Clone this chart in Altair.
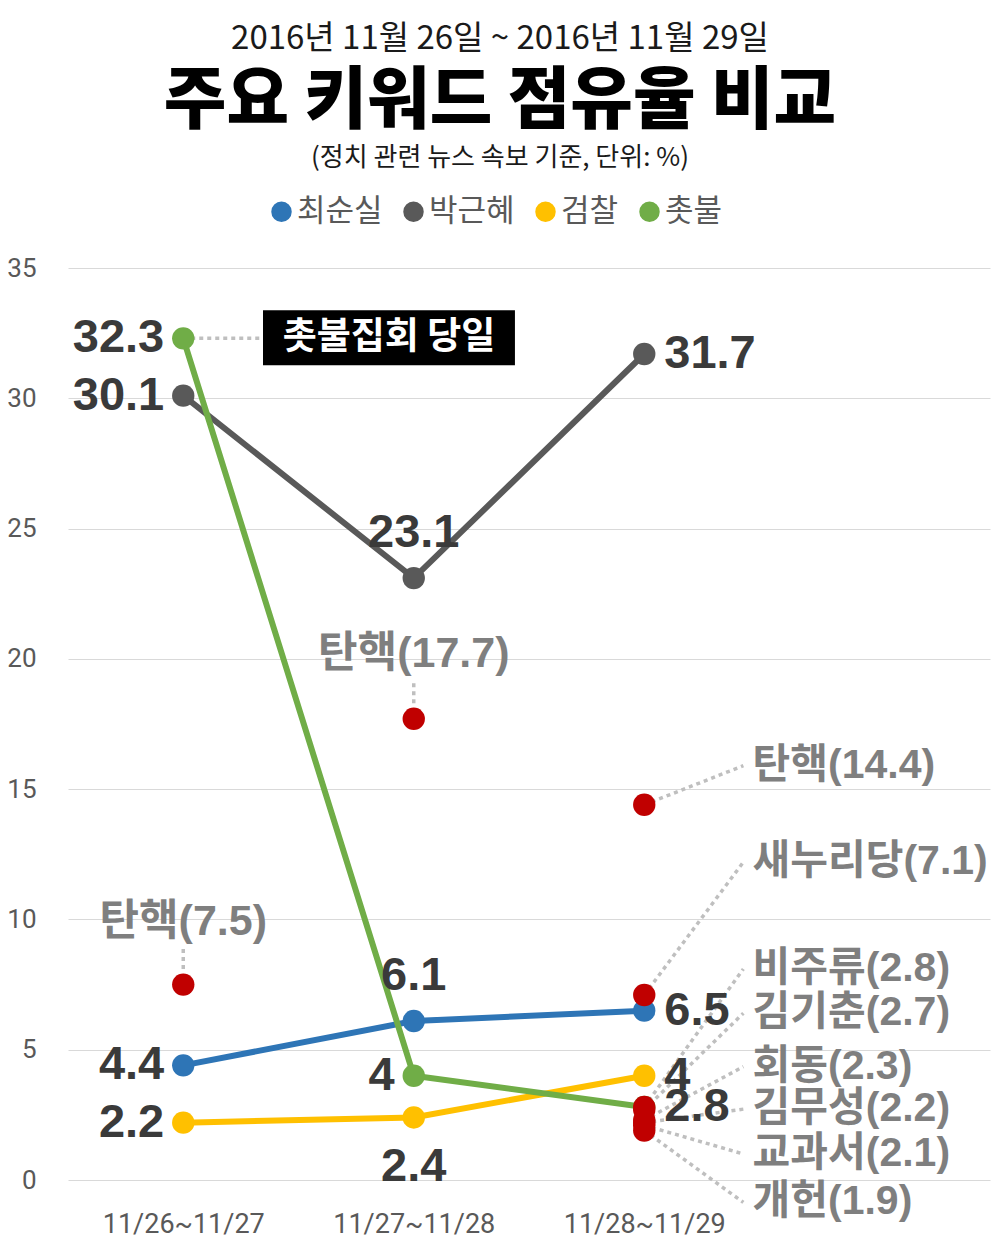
import json
import altair as alt
import pandas as pd

# ---------------- data ----------------
periods = ["11/26~11/27", "11/27~11/28", "11/28~11/29"]
series_names = ["최순실", "박근혜", "검찰", "촛불"]
series_colors = ["#2e75b6", "#595959", "#ffc000", "#70ad47"]
choi_values = [4.4, 6.1, 6.5]
park_values = [30.1, 23.1, 31.7]
prosecution_values = [2.2, 2.4, 4.0]
candle_values = [32.3, 4.0, 2.8]
series_values = [choi_values, park_values, prosecution_values, candle_values]
value_label_sides = [
    ["left", "above", "right"],
    ["left", "above", "right"],
    ["left", "below", "right"],
    ["left", "left", "right"],
]

keyword_names = ["탄핵", "탄핵", "탄핵", "새누리당", "비주류", "김기춘", "회동", "김무성", "교과서", "개헌"]
keyword_period = [0, 1, 2, 2, 2, 2, 2, 2, 2, 2]
keyword_values = [7.5, 17.7, 14.4, 7.1, 2.8, 2.7, 2.3, 2.2, 2.1, 1.9]
keyword_label_sides = ["above", "above"] + ["right"] * 8
keyword_label_y = [9.9, 20.2, 15.9, 12.2, 8.1, 6.4, 4.35, 2.72, 1.0, -0.86]

event_text = "촛불집회 당일"
event_box = {"x": 0.346, "x2": 1.439, "y": 33.38, "y2": 31.27}

title_line1 = "2016년 11월 26일 ~ 2016년 11월 29일"
title_main = "주요 키워드 점유율 비교"
title_note = "(정치 관련 뉴스 속보 기준, 단위: %)"

# ---------------- tables ----------------
rows = []
for si, name in enumerate(series_names):
    for pi, v in enumerate(series_values[si]):
        rows.append({"series": name, "xi": pi, "value": v,
                     "side": value_label_sides[si][pi], "label": f"{v:g}"})
series_df = pd.DataFrame(rows)

kw_rows, leader_rows = [], []
for name, p, v, side, ly in zip(keyword_names, keyword_period, keyword_values,
                                keyword_label_sides, keyword_label_y):
    lx = p if side == "above" else 2.47
    kw_rows.append({"name": name, "xi": p, "value": v, "side": side,
                    "lx": lx, "ly": ly, "label": f"{name}({v:g})"})
    if side == "above":
        leader_rows.append({"x": p, "y": v + 0.6, "x2": p, "y2": ly - 1.0})
    else:
        leader_rows.append({"x": p, "y": v, "x2": 2.43, "y2": ly})
leader_rows.append({"x": 0, "y": candle_values[0], "x2": event_box["x"], "y2": candle_values[0]})
kw_df = pd.DataFrame(kw_rows)
leader_df = pd.DataFrame(leader_rows)
box_df = pd.DataFrame([event_box])
event_df = pd.DataFrame([{"tx": (event_box["x"] + event_box["x2"]) / 2,
                          "ty": (event_box["y"] + event_box["y2"]) / 2,
                          "t": event_text}])

# ---------------- scales / axes ----------------
W, H = 922, 912
xs = alt.Scale(domain=[-0.5, 3.5], nice=False, zero=False)
ys = alt.Scale(domain=[0, 35], nice=False, zero=False)
label_expr = json.dumps(periods) + "[datum.value]"
x_axis = alt.Axis(values=[0, 1, 2], labelExpr=label_expr, grid=False, domain=False,
                  ticks=False, tickSize=0, labelPadding=31, labelFontSize=27,
                  labelFont="Roboto", labelColor="#595959", title=None)
y_axis = alt.Axis(values=list(range(0, 36, 5)), grid=True, gridColor="#d9d9d9",
                  gridWidth=1, domain=False, ticks=False, tickSize=0,
                  labelPadding=32, labelFontSize=26, labelFont="Roboto",
                  labelColor="#595959", title=None)


def X(f):
    return alt.X(f, type="quantitative", scale=xs, axis=x_axis)


def Y(f):
    return alt.Y(f, type="quantitative", scale=ys, axis=y_axis)


color_scale = alt.Scale(domain=series_names, range=series_colors)

VALUE_FONT = "Liberation Sans, Noto Sans CJK KR"
value_color = "#3a3a3a"
kw_color = "#7f7f7f"

leaders = alt.Chart(leader_df).mark_rule(
    color="#bfbfbf", strokeWidth=3.5, strokeDash=[4, 4]
).encode(x=X("x"), y=Y("y"), x2="x2", y2="y2")

lines = alt.Chart(series_df).mark_line(strokeWidth=6).encode(
    x=X("xi"), y=Y("value"),
    color=alt.Color("series:N", scale=color_scale, legend=None),
    order=alt.Order("xi:Q"),
    detail="series:N",
)

points = alt.Chart(series_df).mark_circle(size=500, opacity=1).encode(
    x=X("xi"), y=Y("value"),
    color=alt.Color("series:N", scale=color_scale, legend=alt.Legend(
        orient="none", legendX=198, legendY=-72, direction="horizontal",
        title=None, symbolType="circle", symbolSize=420, symbolStrokeWidth=0,
        labelFontSize=31, labelFont="Noto Sans CJK KR", labelColor="#595959",
        labelOffset=0, columnPadding=15, padding=0, labelLimit=300)),
)

red_dots = alt.Chart(kw_df).mark_circle(size=500, opacity=1, color="#c00000").encode(
    x=X("xi"), y=Y("value"))


def value_layer(side, **kw):
    return alt.Chart(series_df).transform_filter(
        alt.datum.side == side
    ).mark_text(font=VALUE_FONT, fontWeight="bold", fontSize=47,
                color=value_color, baseline="middle", **kw).encode(
        x=X("xi"), y=Y("value"), text="label:N")


vl_left = value_layer("left", align="right", dx=-19)
vl_right = value_layer("right", align="left", dx=20)
vl_above = value_layer("above", align="center", dy=-45)
vl_below = value_layer("below", align="center", dy=50)

kw_above = alt.Chart(kw_df).transform_filter(alt.datum.side == "above").mark_text(
    font=VALUE_FONT, fontWeight="bold", fontSize=43, color=kw_color,
    align="center", baseline="middle").encode(x=X("lx"), y=Y("ly"), text="label:N")
kw_right = alt.Chart(kw_df).transform_filter(alt.datum.side == "right").mark_text(
    font=VALUE_FONT, fontWeight="bold", fontSize=41, color=kw_color,
    align="left", baseline="middle").encode(x=X("lx"), y=Y("ly"), text="label:N")

box = alt.Chart(box_df).mark_rect(color="#000000").encode(
    x=X("x"), x2="x2", y=Y("y"), y2="y2")
box_text = alt.Chart(event_df).mark_text(
    font="Noto Sans CJK KR", fontWeight="bold", fontSize=37, color="#ffffff",
    align="center", baseline="middle").encode(x=X("tx"), y=Y("ty"), text="t:N")

one = pd.DataFrame({"a": [0]})
CX = 432
t1 = alt.Chart(one).mark_text(text=title_line1, font="Noto Sans CJK KR", fontSize=33,
                              color="#1a1a1a", align="center", baseline="middle"
                              ).encode(x=alt.value(CX), y=alt.value(-229))
t2 = alt.Chart(one).mark_text(text=title_main, font="Noto Sans CJK KR", fontSize=68,
                              fontWeight=900, color="#000000", align="center",
                              baseline="middle").encode(x=alt.value(CX), y=alt.value(-165))
t3 = alt.Chart(one).mark_text(text=title_note, font="Noto Sans CJK KR", fontSize=26,
                              color="#1a1a1a", align="center", baseline="middle"
                              ).encode(x=alt.value(CX), y=alt.value(-110))

chart = alt.layer(
    leaders, lines, points, red_dots, box, box_text,
    vl_left, vl_right, vl_above, vl_below, kw_above, kw_right, t1, t2, t3
).resolve_legend(color="independent").properties(
    width=W, height=H,
    autosize=alt.AutoSizeParams(type="none"),
    padding={"left": 60, "top": 260, "right": 2, "bottom": 58},
).configure_view(stroke=None)

chart.save("out.html", embed_options={"renderer": "svg", "actions": False})
